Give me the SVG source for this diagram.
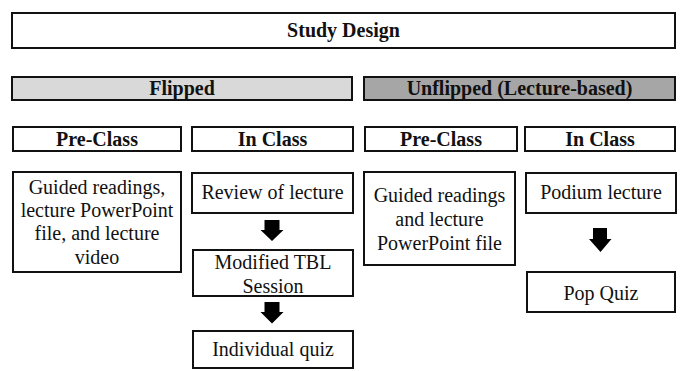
<svg xmlns="http://www.w3.org/2000/svg" width="686" height="371" viewBox="0 0 686 371">
<style>
.box{fill:#fff;stroke:#111;stroke-width:2}
.t{font-family:"Liberation Serif","Times New Roman",serif;font-size:20px;fill:#111;text-anchor:middle}
.b{font-weight:bold}
.arr{fill:#000}
</style>
<rect width="686" height="371" fill="#fff"/>
<g id="study-design"><rect class="box" x="12" y="13" width="663" height="35"/><text class="t b" x="343.5" y="37">Study Design</text></g>
<g id="flipped"><rect class="box" x="12" y="77" width="340" height="23" style="fill:#d9d9d9"/><text class="t b" x="182" y="95">Flipped</text></g>
<g id="unflipped"><rect class="box" x="364" y="77" width="311" height="23" style="fill:#a6a6a6"/><text class="t b" x="519.5" y="95">Unflipped (Lecture-based)</text></g>
<g id="f-pre"><rect class="box" x="13" y="127" width="168" height="24"/><text class="t b" x="97" y="146">Pre-Class</text></g>
<g id="f-in"><rect class="box" x="192" y="127" width="161" height="24"/><text class="t b" x="272.5" y="146">In Class</text></g>
<g id="u-pre"><rect class="box" x="365" y="127" width="152" height="24"/><text class="t b" x="441" y="146">Pre-Class</text></g>
<g id="u-in"><rect class="box" x="525" y="127" width="150" height="24"/><text class="t b" x="600" y="146">In Class</text></g>
<g id="f-pre-content"><rect class="box" x="13" y="172" width="168" height="100"/>
<text class="t" x="97" y="194">Guided readings,</text>
<text class="t" x="97" y="217">lecture PowerPoint</text>
<text class="t" x="97" y="240">file, and lecture</text>
<text class="t" x="97" y="264">video</text></g>
<g id="review"><rect class="box" x="192" y="173" width="161" height="40"/><text class="t" x="272.5" y="199">Review of lecture</text></g>
<g id="tbl"><rect class="box" x="193" y="250" width="160" height="46"/><text class="t" x="273" y="269">Modified TBL</text><text class="t" x="273" y="293">Session</text></g>
<g id="quiz"><rect class="box" x="193" y="331" width="160" height="37"/><text class="t" x="273" y="356">Individual quiz</text></g>
<g id="u-pre-content"><rect class="box" x="364" y="172" width="151" height="93"/>
<text class="t" x="439.5" y="202">Guided readings</text>
<text class="t" x="439.5" y="226">and lecture</text>
<text class="t" x="439.5" y="250">PowerPoint file</text></g>
<g id="podium"><rect class="box" x="526" y="173" width="150" height="40"/><text class="t" x="601" y="199">Podium lecture</text></g>
<g id="popquiz"><rect class="box" x="527" y="272" width="148" height="40"/><text class="t" x="601" y="300">Pop Quiz</text></g>
<g id="connectors">
<polygon class="arr" points="264.5,220 279.5,220 279.5,230 283.5,230 272,241 260.5,230 264.5,230"/>
<polygon class="arr" points="264.5,302 279.5,302 279.5,312 283.5,312 272,323.5 260.5,312 264.5,312"/>
<polygon class="arr" points="593,228 607,228 607,239 611.5,239 600.5,252 589,239 593,239"/>
</g>
</svg>
